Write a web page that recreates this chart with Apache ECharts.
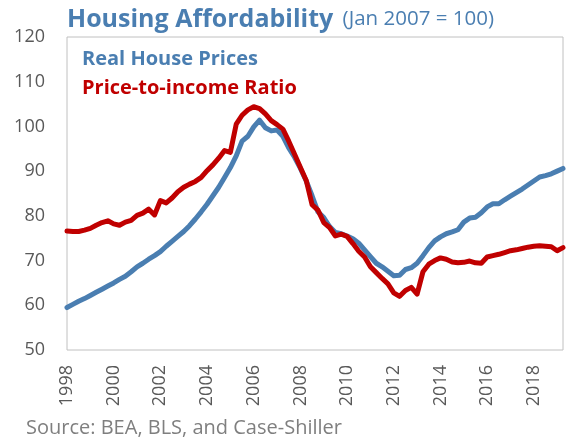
<!DOCTYPE html>
<html>
<head>
<meta charset="utf-8">
<script src="https://cdn.jsdelivr.net/npm/echarts@6/dist/echarts.min.js"></script>
<style>
  html, body { margin: 0; padding: 0; background: #fff; }
  #chart { width: 577px; height: 440px; }
</style>
</head>
<body>
<div id="chart"></div>
<script>
// quarterly, 1998 Q1 .. 2019 Q2
const firstYear = 1998
const quarterCount = 86
const tickLabels = ['1998', '2000', '2002', '2004', '2006', '2008', '2010', '2012', '2014', '2016', '2018']

// Real House Prices (Jan 2007 = 100)
const realPrices = [
  59.5, 60.2, 60.9, 61.5, 62.2, 62.9, 63.6, 64.3, 65.0, 65.8,
  66.5, 67.5, 68.6, 69.4, 70.3, 71.1, 72.0, 73.2, 74.3, 75.4,
  76.5, 77.8, 79.3, 80.9, 82.6, 84.5, 86.4, 88.6, 90.8, 93.4,
  96.7, 97.8, 99.9, 101.4, 99.7, 99.0, 99.2, 97.8, 95.2, 93.1,
  90.6, 87.8, 84.5, 80.9, 79.6, 77.6, 76.3, 76.0, 75.5, 74.9,
  73.9, 72.4, 70.9, 69.4, 68.6, 67.6, 66.6, 66.7, 68.0, 68.4,
  69.4, 71.1, 72.9, 74.4, 75.3, 76.0, 76.4, 76.9, 78.6, 79.5,
  79.7, 80.7, 82.0, 82.7, 82.7, 83.6, 84.4, 85.2, 86.0, 86.9,
  87.8, 88.7, 89.0, 89.4, 90.0, 90.6
]

// Price-to-income Ratio (Jan 2007 = 100)
const priceToIncome = [
  76.6, 76.5, 76.5, 76.8, 77.2, 77.9, 78.5, 78.9, 78.2, 77.9,
  78.6, 79.0, 80.1, 80.6, 81.5, 80.2, 83.4, 82.9, 84.0, 85.4,
  86.4, 87.1, 87.7, 88.6, 90.1, 91.4, 92.9, 94.6, 94.2, 100.5,
  102.5, 103.7, 104.4, 104.0, 102.8, 101.3, 100.4, 99.4, 96.7, 93.8,
  90.8, 87.9, 82.5, 81.3, 78.5, 77.4, 75.5, 75.9, 75.4, 73.8,
  72.1, 70.8, 68.6, 67.3, 66.0, 64.8, 62.8, 62.0, 63.3, 64.0,
  62.5, 67.5, 69.2, 70.0, 70.6, 70.3, 69.7, 69.5, 69.6, 69.9,
  69.5, 69.4, 70.8, 71.1, 71.4, 71.8, 72.2, 72.4, 72.7, 73.0,
  73.2, 73.3, 73.2, 73.1, 72.2, 72.9
]

const categories = []
for (let i = 0; i < quarterCount; i++) {
  categories.push((firstYear + Math.floor(i / 4)) + ' Q' + (i % 4 + 1))
}

const blue = '#4a7eb1'
const red = '#c00000'
const font = 'Open Sans'

const chart = echarts.init(document.getElementById('chart'))
chart.setOption({
  animation: false,
  textStyle: { fontFamily: font },
  title: {
    left: 62,
    top: 2,
    text: '{a|Housing Affordability}  {b|(Jan 2007 = 100)}',
    textStyle: {
      rich: {
        a: { fontFamily: font, fontSize: 25, fontWeight: 'bold', color: blue },
        b: { fontFamily: font, fontSize: 20.5, fontWeight: 'normal', color: blue }
      }
    }
  },
  legend: {
    orient: 'vertical',
    left: 72,
    top: 44,
    itemGap: 9,
    itemWidth: 0,
    itemHeight: 0,
    icon: 'none',
    selectedMode: false,
    textStyle: { fontFamily: font, fontSize: 20, fontWeight: 'bold' },
    data: [
      { name: 'Real House Prices', textStyle: { color: blue } },
      { name: 'Price-to-income Ratio', textStyle: { color: red } }
    ]
  },
  grid: {
    left: 67,
    right: 14,
    top: 37,
    bottom: 90,
    show: true,
    borderColor: '#c0c0c0',
    borderWidth: 1
  },
  xAxis: {
    type: 'category',
    data: categories,
    boundaryGap: false,
    axisLine: { show: false },
    axisTick: { show: false },
    splitLine: { show: false },
    axisLabel: {
      interval: 7,
      rotate: 90,
      margin: 15,
      fontSize: 18,
      color: '#595959',
      formatter: function (value, index) {
        return tickLabels[index / 8] || ''
      }
    }
  },
  yAxis: {
    type: 'value',
    min: 50,
    max: 120,
    interval: 10,
    axisLine: { show: false },
    axisTick: { show: false },
    splitLine: { show: false },
    axisLabel: { fontSize: 18, color: '#595959', margin: 22 }
  },
  graphic: [{
    type: 'text',
    left: 26,
    top: 418,
    style: {
      text: 'Source: BEA, BLS, and Case-Shiller',
      fontFamily: font,
      fontSize: 20,
      fill: '#7f7f7f'
    }
  }],
  series: [
    {
      name: 'Real House Prices',
      type: 'line',
      showSymbol: false,
      data: realPrices,
      lineStyle: { width: 5, color: blue, cap: 'round', join: 'round' },
      itemStyle: { color: blue }
    },
    {
      name: 'Price-to-income Ratio',
      type: 'line',
      showSymbol: false,
      data: priceToIncome,
      lineStyle: { width: 5, color: red, cap: 'round', join: 'round' },
      itemStyle: { color: red }
    }
  ]
})
</script>
</body>
</html>
